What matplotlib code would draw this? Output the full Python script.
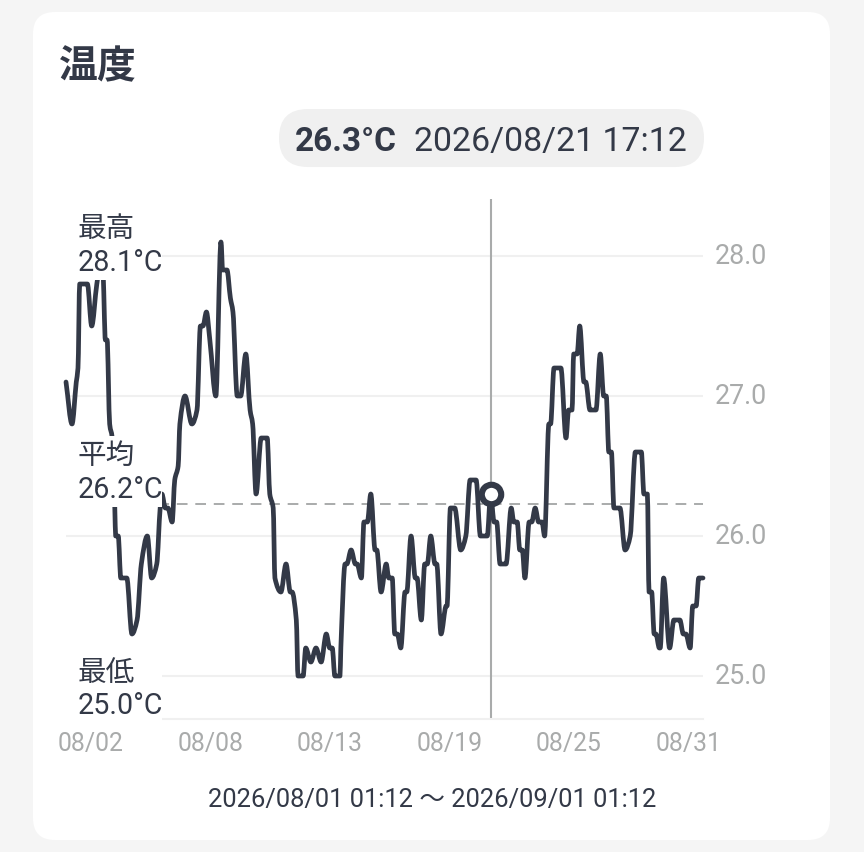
import matplotlib
matplotlib.use("Agg")
import matplotlib.pyplot as plt
import numpy as np
from matplotlib.patches import FancyBboxPatch, PathPatch
from matplotlib.path import Path

hours = [0,7,12,14,16,19,25,30,36,39,43,46,48,51,54,57,58,61,64,71,77,83,88,95,100,106,110,112,116,119,124,127,131,133,139,147,153,157,160,164,168,175,181,183,188,192,195,200,204,210,215,218,222,228,235,238,242,244,251,257,262,264,269,271,277,280,286,292,298,304,308,311,314,320,321,326,328,333,338,340,345,348,352,356,361,363,368,374,377,381,384,387,391,396,398,403,408,410,415,419,422,426,431,433,438,444,445,449,454,461,467,472,479,484,492,496,500,503,507,514,520,523,527,530,533,536,541,544,548,552,556,559,564,566,570,578,584,587,591,593,597,600,605,607,612,619,624,628,631,634,637,640,647,653,659,665,672,675,679,681,684,687,689,693,694,698,705,710,717,721,724,729,732,736,739,744]
temps = [27.1,26.8,27.1,27.2,27.8,27.8,27.8,27.5,27.8,27.9,27.9,27.4,27.4,26.8,26.7,26.2,26.0,26.0,25.7,25.7,25.3,25.4,25.8,26.0,25.7,25.8,26.2,26.3,26.2,26.2,26.1,26.4,26.5,26.8,27.0,26.8,26.9,27.5,27.5,27.6,27.4,27.0,28.1,27.9,27.9,27.7,27.6,27.0,27.0,27.3,26.9,26.8,26.3,26.7,26.7,26.3,26.2,25.7,25.6,25.8,25.6,25.6,25.4,25.0,25.0,25.2,25.1,25.2,25.1,25.3,25.2,25.2,25.0,25.0,25.2,25.8,25.8,25.9,25.8,25.8,25.7,26.1,26.1,26.3,25.9,25.9,25.6,25.8,25.7,25.7,25.3,25.3,25.2,25.6,25.6,26.0,25.7,25.7,25.4,25.8,25.8,26.0,25.8,25.8,25.3,25.5,25.5,26.2,26.2,25.9,26.0,26.4,26.4,26.0,26.0,26.3,26.1,26.1,25.8,25.8,26.2,26.1,26.1,25.9,25.9,25.7,26.1,26.1,26.2,26.1,26.1,26.0,26.8,26.8,27.2,27.2,26.7,26.9,26.9,27.3,27.3,27.5,27.1,27.1,26.9,26.9,27.3,27.0,27.0,26.6,26.6,26.2,26.2,25.9,26.0,26.6,26.6,26.3,26.3,25.6,25.6,25.3,25.3,25.2,25.2,25.7,25.2,25.4,25.4,25.3,25.3,25.2,25.5,25.5,25.7,25.7]
tick_hours = [29,169,308,448,587,727]
tick_labels = ["08/02","08/08","08/13","08/19","08/25","08/31"]
y_ticks = [25.0,26.0,27.0,28.0]
y_labels = ["25.0","26.0","27.0","28.0"]
mean_temp = 26.23
selected_hour = 496
selected_temp = 26.3
title = "温度"
selected_value = "26.3°C"
selected_time = "2026/08/21 17:12"
stat_names = ["最高","平均","最低"]
stat_values = ["28.1°C","26.2°C","25.0°C"]
range_label = "2026/08/01 01:12 〜 2026/09/01 01:12"

W, H = 864, 852
DARK = "#333947"
GREY = "#a9abab"
FONT = ["Roboto", "Noto Sans CJK JP", "DejaVu Sans"]
plt.rcParams["font.family"] = FONT

fig = plt.figure(figsize=(W/100, H/100), dpi=100, facecolor="#f5f5f5")

def layer(z):
    a = fig.add_axes([0, 0, 1, 1], zorder=z)
    a.set_xlim(0, W); a.set_ylim(H, 0); a.axis("off"); a.patch.set_alpha(0)
    return a

def monotone_path(x, y):
    # Monotone cubic segments between the readings, as the source chart's curve
    x = np.asarray(x, float); y = np.asarray(y, float)
    h = np.diff(x); d = np.diff(y) / h
    m = np.zeros_like(y)
    m[0], m[-1] = d[0], d[-1]
    for i in range(1, len(y) - 1):
        if d[i-1] * d[i] > 0:
            m[i] = 2 * d[i-1] * d[i] / (d[i-1] + d[i])
    verts = [(x[0], y[0])]
    codes = [Path.MOVETO]
    for i in range(len(h)):
        verts += [(x[i] + h[i]/3, y[i] + m[i]*h[i]/3),
                  (x[i+1] - h[i]/3, y[i+1] - m[i+1]*h[i]/3),
                  (x[i+1], y[i+1])]
        codes += [Path.CURVE4] * 3
    return Path(verts, codes)

bg = layer(0)
bg.add_patch(FancyBboxPatch((33+22, 12+22), 797-44, 828-44, boxstyle="round,pad=22,rounding_size=22",
                            fc="white", ec="none"))
bg.add_patch(FancyBboxPatch((279+29, 109+29), 425-58, 0.01, boxstyle="round,pad=29,rounding_size=29",
                            fc="#f0f0f0", ec="none"))
bg.text(59, 68, title, fontsize=28, fontweight="bold", color=DARK, va="center", ha="left")
bg.text(295, 142, selected_value, fontsize=24, fontweight="bold", color=DARK, va="center", ha="left")
bg.text(687, 142, selected_time, fontsize=24.4, color=DARK, va="center", ha="right")
bg.text(432, 800, range_label, fontsize=18.4, color=DARK, va="center", ha="center")

ax = fig.add_axes([66/W, 1-719/H, (703-66)/W, (719-199)/H], zorder=1)
ax.patch.set_alpha(0)
ax.set_xlim(0, 744)
ax.set_ylim(28 - (719-256)/140, 28 + (256-199)/140)
for s in ["top", "left", "right"]:
    ax.spines[s].set_visible(False)
ax.spines["bottom"].set_color("#f0f0f0")
ax.spines["bottom"].set_linewidth(1.5)
ax.set_yticks(y_ticks, y_labels)
ax.yaxis.tick_right()
for lbl in ax.get_yticklabels():
    lbl.set_verticalalignment("center")
ax.set_xticks(tick_hours, tick_labels)
ax.tick_params(axis="both", length=0, labelcolor=GREY)
ax.tick_params(axis="y", labelsize=19.4, pad=8.5)
ax.tick_params(axis="x", labelsize=17.8, pad=9)
ax.grid(axis="y", color="#f0f0f0", linewidth=1.5, zorder=1)
ax.axhline(mean_temp, color=GREY, linewidth=1.4, dashes=(5.5, 4), zorder=2)
ax.axvline(selected_hour, color=GREY, linewidth=1.5, zorder=2)
ax.add_patch(PathPatch(monotone_path(hours, temps), fill=False, edgecolor=DARK, linewidth=3.4,
                       joinstyle="round", capstyle="round", zorder=3, clip_on=False))
ax.plot([selected_hour], [selected_temp], "o", ms=14, mfc="white", mec=DARK, mew=4.4, zorder=4)

top = layer(2)
for name, val, y_name, y_val, y0, y1 in zip(stat_names, stat_values, [229, 456, 673], [263, 490, 706],
                                            [208, 436, 653], [280, 507, 722]):
    top.fill_between([60, 162], y0, y1, color="white", lw=0)
    top.text(77.5, y_name, name, fontsize=20.6, color=DARK, va="center", ha="left")
    top.text(77.5, y_val, val, fontsize=20.6, color=DARK, va="center", ha="left")

fig.savefig("out.png", dpi=100, facecolor=fig.get_facecolor())
